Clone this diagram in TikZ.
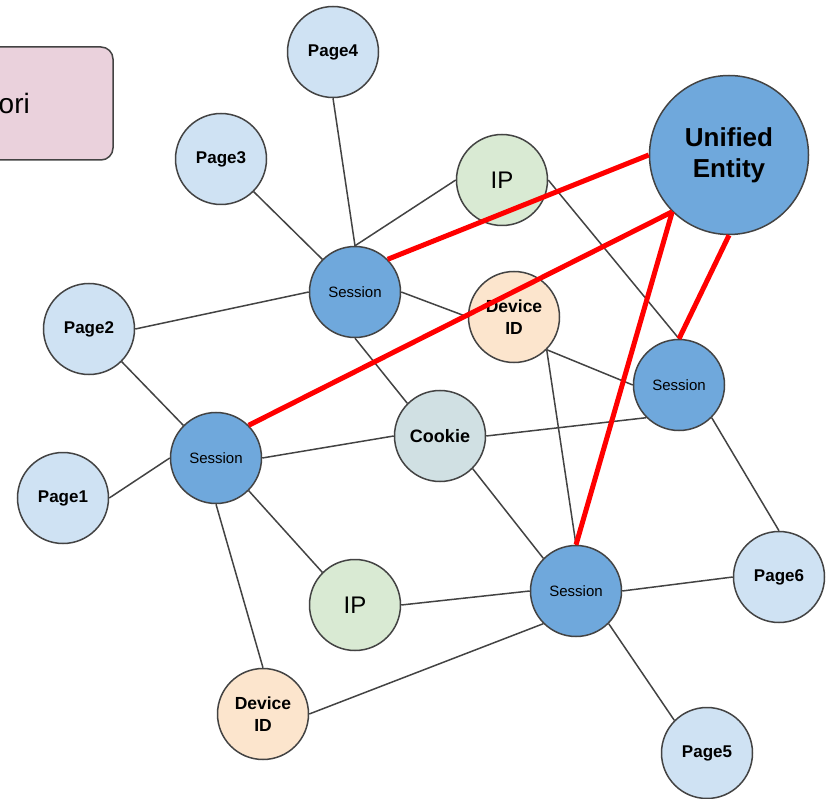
\documentclass[tikz,border=0pt]{standalone}
\usepackage{fontspec}
\setmainfont{Liberation Sans}

\definecolor{sessblue}{HTML}{6FA8DC}
\definecolor{pageblue}{HTML}{CFE2F3}
\definecolor{ipgreen}{HTML}{D9EAD3}
\definecolor{devorange}{HTML}{FCE5CD}
\definecolor{cookiegray}{HTML}{D0E0E3}
\definecolor{boxpink}{HTML}{EAD1DC}
\definecolor{rim}{HTML}{434343}

\tikzset{
  vertex/.style={circle, draw=rim, line width=1.5pt, minimum size=91pt, inner sep=0pt, align=center},
  session/.style={vertex, fill=sessblue, font=\fontsize{15}{18}\selectfont},
  page/.style={vertex, fill=pageblue, font=\fontsize{17}{20}\selectfont\bfseries},
  ipnode/.style={vertex, fill=ipgreen, font=\fontsize{24}{28}\selectfont},
  device/.style={vertex, fill=devorange, font=\fontsize{17.5}{22}\selectfont\bfseries},
  link/.style={draw=rim, line width=1.5pt},
  merge/.style={draw=red, line width=5pt}
}

\begin{document}
\begin{tikzpicture}[x=1pt,y=-1pt]
\useasboundingbox (0,0) rectangle (827,799);

% clipped label box on the left
\draw[draw=rim, line width=1.5pt, fill=boxpink, rounded corners=12pt] (-60,47) rectangle (113,160);
\node[anchor=east, font=\fontsize{28}{32}\selectfont, inner sep=0pt] (ori) at (30,103) {ori};

% nodes
\node[vertex, fill=sessblue, minimum size=159pt, font=\fontsize{26}{31}\selectfont\bfseries] (unified) at (729,155) {Unified\\Entity};

\node[page] (page4) at (333,52) {Page4};
\node[page] (page3) at (221,159) {Page3};
\node[page] (page2) at (89,329) {Page2};
\node[page] (page1) at (63,498) {Page1};
\node[page] (page6) at (779,577) {Page6};
\node[page] (page5) at (707,753) {Page5};

\node[ipnode] (ipT) at (502,180) {IP};
\node[ipnode] (ipB) at (355,605) {IP};

\node[device] (devT) at (514,317) {Device\\ID};
\node[device] (devB) at (263,714) {Device\\ID};

\node[vertex, fill=cookiegray, font=\fontsize{18}{22}\selectfont\bfseries] (cookie) at (440,436) {Cookie};

\node[session] (sessT) at (355,292) {Session};
\node[session] (sessR) at (679,385) {Session};
\node[session] (sessL) at (216,458) {Session};
\node[session] (sessB) at (576,591) {Session};

% links, snapped to the connection points of the circles
\draw[link] (page4.south) -- (sessT.north);
\draw[link] (ipT.west) -- (sessT.north);
\draw[link] (page3.-45) -- (sessT.135);
\draw[link] (page2.east) -- (sessT.west);
\draw[link] (sessT.east) -- (devT.west);
\draw[link] (sessT.south) -- (cookie.135);

\draw[link] (page2.-45) -- (sessL.135);
\draw[link] (page1.east) -- (sessL.west);
\draw[link] (sessL.east) -- (cookie.west);
\draw[link] (sessL.-45) -- (ipB.135);
\draw[link] (sessL.south) -- (devB.north);

\draw[link] (cookie.east) -- (sessR.-135);
\draw[link] (devT.-45) -- (sessR.west);
\draw[link] (ipT.east) -- (sessR.north);
\draw[link] (sessR.-45) -- (page6.north);

\draw[link] (cookie.-45) -- (sessB.135);
\draw[link] (devT.-45) -- (sessB.north);
\draw[link] (ipB.east) -- (sessB.west);
\draw[link] (sessB.east) -- (page6.west);
\draw[link] (sessB.-45) -- (page5.135);
\draw[link] (devB.east) -- (sessB.-135);

% merged sessions
\draw[merge] (unified.west) -- (sessT.45);
\draw[merge] (unified.-135) -- (sessL.45);
\draw[merge] (unified.-135) -- (sessB.north);
\draw[merge] (unified.south) -- (sessR.north);
\end{tikzpicture}
\end{document}
